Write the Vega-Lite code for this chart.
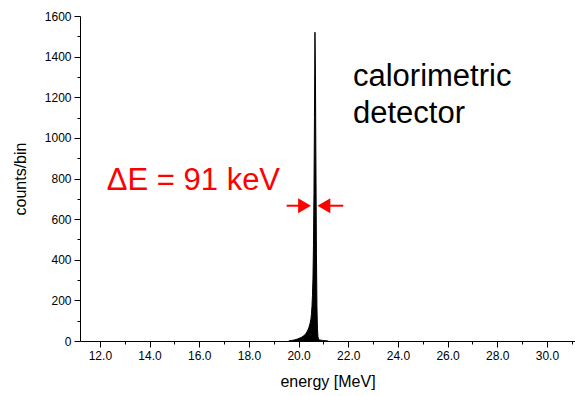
{
  "$schema": "https://vega.github.io/schema/vega-lite/v6.json",
  "width": 495,
  "height": 325,
  "autosize": {"type": "none"},
  "padding": {"left": 80, "top": 16, "right": 0, "bottom": 55},
  "background": "white",
  "config": {
    "view": {"stroke": null},
    "font": "Liberation Sans",
    "axis": {
      "domainColor": "black",
      "tickColor": "black",
      "labelColor": "black",
      "titleColor": "black",
      "grid": false,
      "labelFont": "Liberation Sans",
      "titleFont": "Liberation Sans",
      "titleFontWeight": "normal",
      "labelFontSize": 12,
      "titleFontSize": 16,
      "domainWidth": 1,
      "tickWidth": 1
    }
  },
  "datasets": {
    "peak": [
      {"energy": 19.6, "counts": 0},
      {"energy": 19.7, "counts": 2},
      {"energy": 19.74, "counts": 3},
      {"energy": 19.78, "counts": 4},
      {"energy": 19.82, "counts": 5},
      {"energy": 19.86, "counts": 6},
      {"energy": 19.9, "counts": 8},
      {"energy": 19.94, "counts": 9},
      {"energy": 19.98, "counts": 11},
      {"energy": 20.02, "counts": 13},
      {"energy": 20.06, "counts": 15},
      {"energy": 20.1, "counts": 17},
      {"energy": 20.14, "counts": 20},
      {"energy": 20.18, "counts": 23},
      {"energy": 20.22, "counts": 27},
      {"energy": 20.26, "counts": 31},
      {"energy": 20.3, "counts": 38},
      {"energy": 20.34, "counts": 46},
      {"energy": 20.38, "counts": 56},
      {"energy": 20.42, "counts": 68},
      {"energy": 20.46, "counts": 85},
      {"energy": 20.5, "counts": 110},
      {"energy": 20.52, "counts": 135},
      {"energy": 20.54, "counts": 170},
      {"energy": 20.56, "counts": 225},
      {"energy": 20.58, "counts": 310},
      {"energy": 20.6, "counts": 470},
      {"energy": 20.62, "counts": 720},
      {"energy": 20.64, "counts": 1100},
      {"energy": 20.66, "counts": 1520},
      {"energy": 20.68, "counts": 1290},
      {"energy": 20.7, "counts": 850},
      {"energy": 20.72, "counts": 430},
      {"energy": 20.74, "counts": 170},
      {"energy": 20.76, "counts": 60},
      {"energy": 20.78, "counts": 22},
      {"energy": 20.8, "counts": 10},
      {"energy": 20.84, "counts": 6},
      {"energy": 20.9, "counts": 4},
      {"energy": 20.96, "counts": 3},
      {"energy": 21.02, "counts": 2},
      {"energy": 21.1, "counts": 1},
      {"energy": 21.2, "counts": 0}
    ],
    "texts": [
      {"energy": 22.19, "counts": 1255, "label": "calorimetric\ndetector", "kind": "det"},
      {"energy": 12.28, "counts": 743, "label": "ΔE = 91 keV", "kind": "res"}
    ],
    "arrowlines": [
      {"e1": 19.52, "e2": 20.27, "counts": 666},
      {"e1": 21.0, "e2": 21.8, "counts": 666}
    ],
    "heads": [
      {"energy": 20.24, "counts": 666, "dir": "right"},
      {"energy": 21.02, "counts": 666, "dir": "left"}
    ]
  },
  "layer": [
    {
      "data": {"name": "peak"},
      "mark": {"type": "area", "color": "black", "opacity": 1, "fillOpacity": 1, "line": {"color": "black", "strokeWidth": 1}},
      "encoding": {
        "x": {
          "field": "energy", "type": "quantitative",
          "scale": {"domain": [11.2, 31.13], "nice": false, "zero": false},
          "axis": {
            "values": [12, 14, 16, 18, 20, 22, 24, 26, 28, 30],
            "format": ".1f",
            "tickSize": 6,
            "labelPadding": 3,
            "title": "energy [MeV]",
            "titlePadding": 12,
            "orient": "bottom"
          }
        },
        "y": {
          "field": "counts", "type": "quantitative",
          "scale": {"domain": [0, 1600], "nice": false},
          "axis": {
            "values": [0, 200, 400, 600, 800, 1000, 1200, 1400, 1600],
            "format": "d",
            "tickSize": 6,
            "labelPadding": 3,
            "title": "counts/bin",
            "titlePadding": 16,
            "orient": "left"
          }
        }
      }
    },
    {
      "data": {"name": "peak"},
      "mark": {"type": "point", "opacity": 0},
      "encoding": {
        "x": {
          "field": "energy", "type": "quantitative",
          "axis": {
            "values": [13, 15, 17, 19, 21, 23, 25, 27, 29, 31],
            "labels": false, "domain": false, "tickSize": 3, "title": null, "orient": "bottom"
          }
        },
        "y": {
          "field": "counts", "type": "quantitative",
          "axis": {
            "values": [100, 300, 500, 700, 900, 1100, 1300, 1500],
            "labels": false, "domain": false, "tickSize": 3, "title": null, "orient": "left"
          }
        }
      }
    },
    {
      "data": {"name": "arrowlines"},
      "mark": {"type": "rule", "color": "#ff0000", "strokeWidth": 2},
      "encoding": {
        "x": {"field": "e1", "type": "quantitative", "axis": null},
        "x2": {"field": "e2"},
        "y": {"field": "counts", "type": "quantitative", "axis": null}
      }
    },
    {
      "data": {"name": "heads"},
      "mark": {"type": "point", "filled": true, "color": "#ff0000", "opacity": 1, "size": 220},
      "encoding": {
        "x": {"field": "energy", "type": "quantitative", "axis": null},
        "y": {"field": "counts", "type": "quantitative", "axis": null},
        "shape": {
          "field": "dir", "type": "nominal",
          "scale": {"domain": ["right", "left"], "range": ["triangle-right", "triangle-left"]},
          "legend": null
        }
      }
    },
    {
      "data": {"name": "texts"},
      "mark": {"type": "text", "align": "left", "baseline": "alphabetic", "fontSize": 31, "lineHeight": 37, "lineBreak": "\n", "font": "Liberation Sans"},
      "encoding": {
        "x": {"field": "energy", "type": "quantitative", "axis": null},
        "y": {"field": "counts", "type": "quantitative", "axis": null},
        "text": {"field": "label", "type": "nominal"},
        "color": {
          "field": "kind", "type": "nominal",
          "scale": {"domain": ["det", "res"], "range": ["black", "#ff0000"]},
          "legend": null
        }
      }
    }
  ],
  "resolve": {"axis": {"x": "independent", "y": "independent"}}
}
